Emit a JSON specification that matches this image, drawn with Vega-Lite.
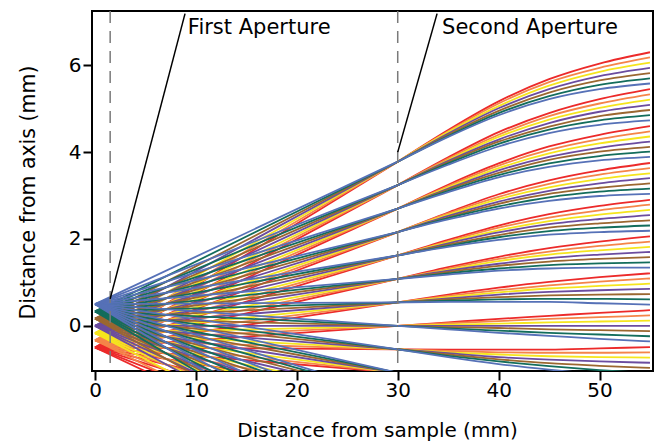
{
"$schema": "https://vega.github.io/schema/vega-lite/v6.json",
"width": 561, "height": 360,
"autosize": "none",
"padding": {"left": 92, "top": 11, "right": 3, "bottom": 71},
"background": "white",
"config": {"view": {"stroke": "black", "strokeWidth": 2}, "font": "DejaVu Sans"},
"datasets": {
"left": [
{"c":"R","y0":-0.5,"y1":-3.78},{"c":"R","y0":-0.5,"y1":-3.24},{"c":"R","y0":-0.5,"y1":-2.70},{"c":"R","y0":-0.5,"y1":-2.16},{"c":"R","y0":-0.5,"y1":-1.62},{"c":"R","y0":-0.5,"y1":-1.08},{"c":"R","y0":-0.5,"y1":-0.54},{"c":"R","y0":-0.5,"y1":0},{"c":"R","y0":-0.5,"y1":0.54},{"c":"R","y0":-0.5,"y1":1.08},{"c":"R","y0":-0.5,"y1":1.62},{"c":"R","y0":-0.5,"y1":2.16},{"c":"R","y0":-0.5,"y1":2.70},{"c":"R","y0":-0.5,"y1":3.24},{"c":"R","y0":-0.5,"y1":3.78},
{"c":"O","y0":-0.333,"y1":-3.78},{"c":"O","y0":-0.333,"y1":-3.24},{"c":"O","y0":-0.333,"y1":-2.70},{"c":"O","y0":-0.333,"y1":-2.16},{"c":"O","y0":-0.333,"y1":-1.62},{"c":"O","y0":-0.333,"y1":-1.08},{"c":"O","y0":-0.333,"y1":-0.54},{"c":"O","y0":-0.333,"y1":0},{"c":"O","y0":-0.333,"y1":0.54},{"c":"O","y0":-0.333,"y1":1.08},{"c":"O","y0":-0.333,"y1":1.62},{"c":"O","y0":-0.333,"y1":2.16},{"c":"O","y0":-0.333,"y1":2.70},{"c":"O","y0":-0.333,"y1":3.24},{"c":"O","y0":-0.333,"y1":3.78},
{"c":"Y","y0":-0.167,"y1":-3.78},{"c":"Y","y0":-0.167,"y1":-3.24},{"c":"Y","y0":-0.167,"y1":-2.70},{"c":"Y","y0":-0.167,"y1":-2.16},{"c":"Y","y0":-0.167,"y1":-1.62},{"c":"Y","y0":-0.167,"y1":-1.08},{"c":"Y","y0":-0.167,"y1":-0.54},{"c":"Y","y0":-0.167,"y1":0},{"c":"Y","y0":-0.167,"y1":0.54},{"c":"Y","y0":-0.167,"y1":1.08},{"c":"Y","y0":-0.167,"y1":1.62},{"c":"Y","y0":-0.167,"y1":2.16},{"c":"Y","y0":-0.167,"y1":2.70},{"c":"Y","y0":-0.167,"y1":3.24},{"c":"Y","y0":-0.167,"y1":3.78},
{"c":"P","y0":0,"y1":-3.78},{"c":"P","y0":0,"y1":-3.24},{"c":"P","y0":0,"y1":-2.70},{"c":"P","y0":0,"y1":-2.16},{"c":"P","y0":0,"y1":-1.62},{"c":"P","y0":0,"y1":-1.08},{"c":"P","y0":0,"y1":-0.54},{"c":"P","y0":0,"y1":0},{"c":"P","y0":0,"y1":0.54},{"c":"P","y0":0,"y1":1.08},{"c":"P","y0":0,"y1":1.62},{"c":"P","y0":0,"y1":2.16},{"c":"P","y0":0,"y1":2.70},{"c":"P","y0":0,"y1":3.24},{"c":"P","y0":0,"y1":3.78},
{"c":"N","y0":0.167,"y1":-3.78},{"c":"N","y0":0.167,"y1":-3.24},{"c":"N","y0":0.167,"y1":-2.70},{"c":"N","y0":0.167,"y1":-2.16},{"c":"N","y0":0.167,"y1":-1.62},{"c":"N","y0":0.167,"y1":-1.08},{"c":"N","y0":0.167,"y1":-0.54},{"c":"N","y0":0.167,"y1":0},{"c":"N","y0":0.167,"y1":0.54},{"c":"N","y0":0.167,"y1":1.08},{"c":"N","y0":0.167,"y1":1.62},{"c":"N","y0":0.167,"y1":2.16},{"c":"N","y0":0.167,"y1":2.70},{"c":"N","y0":0.167,"y1":3.24},{"c":"N","y0":0.167,"y1":3.78},
{"c":"G","y0":0.333,"y1":-3.78},{"c":"G","y0":0.333,"y1":-3.24},{"c":"G","y0":0.333,"y1":-2.70},{"c":"G","y0":0.333,"y1":-2.16},{"c":"G","y0":0.333,"y1":-1.62},{"c":"G","y0":0.333,"y1":-1.08},{"c":"G","y0":0.333,"y1":-0.54},{"c":"G","y0":0.333,"y1":0},{"c":"G","y0":0.333,"y1":0.54},{"c":"G","y0":0.333,"y1":1.08},{"c":"G","y0":0.333,"y1":1.62},{"c":"G","y0":0.333,"y1":2.16},{"c":"G","y0":0.333,"y1":2.70},{"c":"G","y0":0.333,"y1":3.24},{"c":"G","y0":0.333,"y1":3.78},
{"c":"B","y0":0.5,"y1":-3.78},{"c":"B","y0":0.5,"y1":-3.24},{"c":"B","y0":0.5,"y1":-2.70},{"c":"B","y0":0.5,"y1":-2.16},{"c":"B","y0":0.5,"y1":-1.62},{"c":"B","y0":0.5,"y1":-1.08},{"c":"B","y0":0.5,"y1":-0.54},{"c":"B","y0":0.5,"y1":0},{"c":"B","y0":0.5,"y1":0.54},{"c":"B","y0":0.5,"y1":1.08},{"c":"B","y0":0.5,"y1":1.62},{"c":"B","y0":0.5,"y1":2.16},{"c":"B","y0":0.5,"y1":2.70},{"c":"B","y0":0.5,"y1":3.24},{"c":"B","y0":0.5,"y1":3.78}
],
"right": [
{"c":"R","k":7,"x":30,"y":3.78},{"c":"R","k":7,"x":35,"y":4.51},{"c":"R","k":7,"x":40,"y":5.17},{"c":"R","k":7,"x":45,"y":5.68},{"c":"R","k":7,"x":50,"y":6.04},{"c":"R","k":7,"x":55,"y":6.30},
{"c":"R","k":6,"x":30,"y":3.24},{"c":"R","k":6,"x":35,"y":3.88},{"c":"R","k":6,"x":40,"y":4.46},{"c":"R","k":6,"x":45,"y":4.90},{"c":"R","k":6,"x":50,"y":5.22},{"c":"R","k":6,"x":55,"y":5.45},
{"c":"R","k":5,"x":30,"y":2.70},{"c":"R","k":5,"x":35,"y":3.25},{"c":"R","k":5,"x":40,"y":3.74},{"c":"R","k":5,"x":45,"y":4.13},{"c":"R","k":5,"x":50,"y":4.40},{"c":"R","k":5,"x":55,"y":4.60},
{"c":"R","k":4,"x":30,"y":2.16},{"c":"R","k":4,"x":35,"y":2.61},{"c":"R","k":4,"x":40,"y":3.03},{"c":"R","k":4,"x":45,"y":3.35},{"c":"R","k":4,"x":50,"y":3.58},{"c":"R","k":4,"x":55,"y":3.75},
{"c":"R","k":3,"x":30,"y":1.62},{"c":"R","k":3,"x":35,"y":1.98},{"c":"R","k":3,"x":40,"y":2.31},{"c":"R","k":3,"x":45,"y":2.57},{"c":"R","k":3,"x":50,"y":2.76},{"c":"R","k":3,"x":55,"y":2.90},
{"c":"R","k":2,"x":30,"y":1.08},{"c":"R","k":2,"x":35,"y":1.35},{"c":"R","k":2,"x":40,"y":1.59},{"c":"R","k":2,"x":45,"y":1.79},{"c":"R","k":2,"x":50,"y":1.94},{"c":"R","k":2,"x":55,"y":2.06},
{"c":"R","k":1,"x":30,"y":0.54},{"c":"R","k":1,"x":35,"y":0.72},{"c":"R","k":1,"x":40,"y":0.88},{"c":"R","k":1,"x":45,"y":1.01},{"c":"R","k":1,"x":50,"y":1.12},{"c":"R","k":1,"x":55,"y":1.21},
{"c":"R","k":0,"x":30,"y":0},{"c":"R","k":0,"x":35,"y":0.08},{"c":"R","k":0,"x":40,"y":0.16},{"c":"R","k":0,"x":45,"y":0.23},{"c":"R","k":0,"x":50,"y":0.30},{"c":"R","k":0,"x":55,"y":0.36},
{"c":"R","k":-1,"x":30,"y":-0.54},{"c":"R","k":-1,"x":35,"y":-0.55},{"c":"R","k":-1,"x":40,"y":-0.55},{"c":"R","k":-1,"x":45,"y":-0.55},{"c":"R","k":-1,"x":50,"y":-0.52},{"c":"R","k":-1,"x":55,"y":-0.49},
{"c":"O","k":7,"x":30,"y":3.78},{"c":"O","k":7,"x":35,"y":4.48},{"c":"O","k":7,"x":40,"y":5.12},{"c":"O","k":7,"x":45,"y":5.61},{"c":"O","k":7,"x":50,"y":5.94},{"c":"O","k":7,"x":55,"y":6.18},
{"c":"O","k":6,"x":30,"y":3.24},{"c":"O","k":6,"x":35,"y":3.85},{"c":"O","k":6,"x":40,"y":4.40},{"c":"O","k":6,"x":45,"y":4.83},{"c":"O","k":6,"x":50,"y":5.12},{"c":"O","k":6,"x":55,"y":5.33},
{"c":"O","k":5,"x":30,"y":2.70},{"c":"O","k":5,"x":35,"y":3.22},{"c":"O","k":5,"x":40,"y":3.69},{"c":"O","k":5,"x":45,"y":4.05},{"c":"O","k":5,"x":50,"y":4.30},{"c":"O","k":5,"x":55,"y":4.48},
{"c":"O","k":4,"x":30,"y":2.16},{"c":"O","k":4,"x":35,"y":2.59},{"c":"O","k":4,"x":40,"y":2.97},{"c":"O","k":4,"x":45,"y":3.27},{"c":"O","k":4,"x":50,"y":3.48},{"c":"O","k":4,"x":55,"y":3.63},
{"c":"O","k":3,"x":30,"y":1.62},{"c":"O","k":3,"x":35,"y":1.95},{"c":"O","k":3,"x":40,"y":2.26},{"c":"O","k":3,"x":45,"y":2.49},{"c":"O","k":3,"x":50,"y":2.66},{"c":"O","k":3,"x":55,"y":2.79},
{"c":"O","k":2,"x":30,"y":1.08},{"c":"O","k":2,"x":35,"y":1.32},{"c":"O","k":2,"x":40,"y":1.54},{"c":"O","k":2,"x":45,"y":1.71},{"c":"O","k":2,"x":50,"y":1.84},{"c":"O","k":2,"x":55,"y":1.94},
{"c":"O","k":1,"x":30,"y":0.54},{"c":"O","k":1,"x":35,"y":0.69},{"c":"O","k":1,"x":40,"y":0.82},{"c":"O","k":1,"x":45,"y":0.93},{"c":"O","k":1,"x":50,"y":1.02},{"c":"O","k":1,"x":55,"y":1.09},
{"c":"O","k":0,"x":30,"y":0},{"c":"O","k":0,"x":35,"y":0.06},{"c":"O","k":0,"x":40,"y":0.11},{"c":"O","k":0,"x":45,"y":0.16},{"c":"O","k":0,"x":50,"y":0.20},{"c":"O","k":0,"x":55,"y":0.24},
{"c":"O","k":-1,"x":30,"y":-0.54},{"c":"O","k":-1,"x":35,"y":-0.58},{"c":"O","k":-1,"x":40,"y":-0.61},{"c":"O","k":-1,"x":45,"y":-0.62},{"c":"O","k":-1,"x":50,"y":-0.62},{"c":"O","k":-1,"x":55,"y":-0.61},
{"c":"Y","k":7,"x":30,"y":3.78},{"c":"Y","k":7,"x":35,"y":4.46},{"c":"Y","k":7,"x":40,"y":5.06},{"c":"Y","k":7,"x":45,"y":5.53},{"c":"Y","k":7,"x":50,"y":5.85},{"c":"Y","k":7,"x":55,"y":6.06},
{"c":"Y","k":6,"x":30,"y":3.24},{"c":"Y","k":6,"x":35,"y":3.82},{"c":"Y","k":6,"x":40,"y":4.35},{"c":"Y","k":6,"x":45,"y":4.75},{"c":"Y","k":6,"x":50,"y":5.02},{"c":"Y","k":6,"x":55,"y":5.21},
{"c":"Y","k":5,"x":30,"y":2.70},{"c":"Y","k":5,"x":35,"y":3.19},{"c":"Y","k":5,"x":40,"y":3.63},{"c":"Y","k":5,"x":45,"y":3.97},{"c":"Y","k":5,"x":50,"y":4.20},{"c":"Y","k":5,"x":55,"y":4.36},
{"c":"Y","k":4,"x":30,"y":2.16},{"c":"Y","k":4,"x":35,"y":2.56},{"c":"Y","k":4,"x":40,"y":2.92},{"c":"Y","k":4,"x":45,"y":3.19},{"c":"Y","k":4,"x":50,"y":3.38},{"c":"Y","k":4,"x":55,"y":3.51},
{"c":"Y","k":3,"x":30,"y":1.62},{"c":"Y","k":3,"x":35,"y":1.93},{"c":"Y","k":3,"x":40,"y":2.20},{"c":"Y","k":3,"x":45,"y":2.41},{"c":"Y","k":3,"x":50,"y":2.56},{"c":"Y","k":3,"x":55,"y":2.67},
{"c":"Y","k":2,"x":30,"y":1.08},{"c":"Y","k":2,"x":35,"y":1.29},{"c":"Y","k":2,"x":40,"y":1.49},{"c":"Y","k":2,"x":45,"y":1.64},{"c":"Y","k":2,"x":50,"y":1.74},{"c":"Y","k":2,"x":55,"y":1.82},
{"c":"Y","k":1,"x":30,"y":0.54},{"c":"Y","k":1,"x":35,"y":0.66},{"c":"Y","k":1,"x":40,"y":0.77},{"c":"Y","k":1,"x":45,"y":0.86},{"c":"Y","k":1,"x":50,"y":0.92},{"c":"Y","k":1,"x":55,"y":0.97},
{"c":"Y","k":0,"x":30,"y":0},{"c":"Y","k":0,"x":35,"y":0.03},{"c":"Y","k":0,"x":40,"y":0.05},{"c":"Y","k":0,"x":45,"y":0.08},{"c":"Y","k":0,"x":50,"y":0.10},{"c":"Y","k":0,"x":55,"y":0.12},
{"c":"Y","k":-1,"x":30,"y":-0.54},{"c":"Y","k":-1,"x":35,"y":-0.61},{"c":"Y","k":-1,"x":40,"y":-0.66},{"c":"Y","k":-1,"x":45,"y":-0.70},{"c":"Y","k":-1,"x":50,"y":-0.72},{"c":"Y","k":-1,"x":55,"y":-0.73},
{"c":"P","k":7,"x":30,"y":3.78},{"c":"P","k":7,"x":35,"y":4.43},{"c":"P","k":7,"x":40,"y":5.01},{"c":"P","k":7,"x":45,"y":5.45},{"c":"P","k":7,"x":50,"y":5.75},{"c":"P","k":7,"x":55,"y":5.94},
{"c":"P","k":6,"x":30,"y":3.24},{"c":"P","k":6,"x":35,"y":3.80},{"c":"P","k":6,"x":40,"y":4.29},{"c":"P","k":6,"x":45,"y":4.67},{"c":"P","k":6,"x":50,"y":4.93},{"c":"P","k":6,"x":55,"y":5.09},
{"c":"P","k":5,"x":30,"y":2.70},{"c":"P","k":5,"x":35,"y":3.16},{"c":"P","k":5,"x":40,"y":3.58},{"c":"P","k":5,"x":45,"y":3.89},{"c":"P","k":5,"x":50,"y":4.10},{"c":"P","k":5,"x":55,"y":4.24},
{"c":"P","k":4,"x":30,"y":2.16},{"c":"P","k":4,"x":35,"y":2.53},{"c":"P","k":4,"x":40,"y":2.86},{"c":"P","k":4,"x":45,"y":3.11},{"c":"P","k":4,"x":50,"y":3.28},{"c":"P","k":4,"x":55,"y":3.40},
{"c":"P","k":3,"x":30,"y":1.62},{"c":"P","k":3,"x":35,"y":1.90},{"c":"P","k":3,"x":40,"y":2.15},{"c":"P","k":3,"x":45,"y":2.34},{"c":"P","k":3,"x":50,"y":2.46},{"c":"P","k":3,"x":55,"y":2.55},
{"c":"P","k":2,"x":30,"y":1.08},{"c":"P","k":2,"x":35,"y":1.27},{"c":"P","k":2,"x":40,"y":1.43},{"c":"P","k":2,"x":45,"y":1.56},{"c":"P","k":2,"x":50,"y":1.64},{"c":"P","k":2,"x":55,"y":1.70},
{"c":"P","k":1,"x":30,"y":0.54},{"c":"P","k":1,"x":35,"y":0.63},{"c":"P","k":1,"x":40,"y":0.72},{"c":"P","k":1,"x":45,"y":0.78},{"c":"P","k":1,"x":50,"y":0.82},{"c":"P","k":1,"x":55,"y":0.85},
{"c":"P","k":0,"x":30,"y":0},{"c":"P","k":0,"x":35,"y":0},{"c":"P","k":0,"x":40,"y":0},{"c":"P","k":0,"x":45,"y":0},{"c":"P","k":0,"x":50,"y":0},{"c":"P","k":0,"x":55,"y":0},
{"c":"P","k":-1,"x":30,"y":-0.54},{"c":"P","k":-1,"x":35,"y":-0.63},{"c":"P","k":-1,"x":40,"y":-0.72},{"c":"P","k":-1,"x":45,"y":-0.78},{"c":"P","k":-1,"x":50,"y":-0.82},{"c":"P","k":-1,"x":55,"y":-0.85},
{"c":"N","k":7,"x":30,"y":3.78},{"c":"N","k":7,"x":35,"y":4.40},{"c":"N","k":7,"x":40,"y":4.95},{"c":"N","k":7,"x":45,"y":5.37},{"c":"N","k":7,"x":50,"y":5.65},{"c":"N","k":7,"x":55,"y":5.82},
{"c":"N","k":6,"x":30,"y":3.24},{"c":"N","k":6,"x":35,"y":3.77},{"c":"N","k":6,"x":40,"y":4.24},{"c":"N","k":6,"x":45,"y":4.59},{"c":"N","k":6,"x":50,"y":4.83},{"c":"N","k":6,"x":55,"y":4.97},
{"c":"N","k":5,"x":30,"y":2.70},{"c":"N","k":5,"x":35,"y":3.14},{"c":"N","k":5,"x":40,"y":3.52},{"c":"N","k":5,"x":45,"y":3.82},{"c":"N","k":5,"x":50,"y":4.01},{"c":"N","k":5,"x":55,"y":4.12},
{"c":"N","k":4,"x":30,"y":2.16},{"c":"N","k":4,"x":35,"y":2.50},{"c":"N","k":4,"x":40,"y":2.81},{"c":"N","k":4,"x":45,"y":3.04},{"c":"N","k":4,"x":50,"y":3.18},{"c":"N","k":4,"x":55,"y":3.28},
{"c":"N","k":3,"x":30,"y":1.62},{"c":"N","k":3,"x":35,"y":1.87},{"c":"N","k":3,"x":40,"y":2.09},{"c":"N","k":3,"x":45,"y":2.26},{"c":"N","k":3,"x":50,"y":2.36},{"c":"N","k":3,"x":55,"y":2.43},
{"c":"N","k":2,"x":30,"y":1.08},{"c":"N","k":2,"x":35,"y":1.24},{"c":"N","k":2,"x":40,"y":1.38},{"c":"N","k":2,"x":45,"y":1.48},{"c":"N","k":2,"x":50,"y":1.54},{"c":"N","k":2,"x":55,"y":1.58},
{"c":"N","k":1,"x":30,"y":0.54},{"c":"N","k":1,"x":35,"y":0.61},{"c":"N","k":1,"x":40,"y":0.66},{"c":"N","k":1,"x":45,"y":0.70},{"c":"N","k":1,"x":50,"y":0.72},{"c":"N","k":1,"x":55,"y":0.73},
{"c":"N","k":0,"x":30,"y":0},{"c":"N","k":0,"x":35,"y":-0.03},{"c":"N","k":0,"x":40,"y":-0.05},{"c":"N","k":0,"x":45,"y":-0.08},{"c":"N","k":0,"x":50,"y":-0.10},{"c":"N","k":0,"x":55,"y":-0.12},
{"c":"N","k":-1,"x":30,"y":-0.54},{"c":"N","k":-1,"x":35,"y":-0.66},{"c":"N","k":-1,"x":40,"y":-0.77},{"c":"N","k":-1,"x":45,"y":-0.86},{"c":"N","k":-1,"x":50,"y":-0.92},{"c":"N","k":-1,"x":55,"y":-0.97},
{"c":"G","k":7,"x":30,"y":3.78},{"c":"G","k":7,"x":35,"y":4.37},{"c":"G","k":7,"x":40,"y":4.90},{"c":"G","k":7,"x":45,"y":5.29},{"c":"G","k":7,"x":50,"y":5.55},{"c":"G","k":7,"x":55,"y":5.70},
{"c":"G","k":6,"x":30,"y":3.24},{"c":"G","k":6,"x":35,"y":3.74},{"c":"G","k":6,"x":40,"y":4.19},{"c":"G","k":6,"x":45,"y":4.52},{"c":"G","k":6,"x":50,"y":4.73},{"c":"G","k":6,"x":55,"y":4.85},
{"c":"G","k":5,"x":30,"y":2.70},{"c":"G","k":5,"x":35,"y":3.11},{"c":"G","k":5,"x":40,"y":3.47},{"c":"G","k":5,"x":45,"y":3.74},{"c":"G","k":5,"x":50,"y":3.91},{"c":"G","k":5,"x":55,"y":4.01},
{"c":"G","k":4,"x":30,"y":2.16},{"c":"G","k":4,"x":35,"y":2.48},{"c":"G","k":4,"x":40,"y":2.75},{"c":"G","k":4,"x":45,"y":2.96},{"c":"G","k":4,"x":50,"y":3.09},{"c":"G","k":4,"x":55,"y":3.16},
{"c":"G","k":3,"x":30,"y":1.62},{"c":"G","k":3,"x":35,"y":1.84},{"c":"G","k":3,"x":40,"y":2.04},{"c":"G","k":3,"x":45,"y":2.18},{"c":"G","k":3,"x":50,"y":2.26},{"c":"G","k":3,"x":55,"y":2.31},
{"c":"G","k":2,"x":30,"y":1.08},{"c":"G","k":2,"x":35,"y":1.21},{"c":"G","k":2,"x":40,"y":1.32},{"c":"G","k":2,"x":45,"y":1.40},{"c":"G","k":2,"x":50,"y":1.44},{"c":"G","k":2,"x":55,"y":1.46},
{"c":"G","k":1,"x":30,"y":0.54},{"c":"G","k":1,"x":35,"y":0.58},{"c":"G","k":1,"x":40,"y":0.61},{"c":"G","k":1,"x":45,"y":0.62},{"c":"G","k":1,"x":50,"y":0.62},{"c":"G","k":1,"x":55,"y":0.61},
{"c":"G","k":0,"x":30,"y":0},{"c":"G","k":0,"x":35,"y":-0.06},{"c":"G","k":0,"x":40,"y":-0.11},{"c":"G","k":0,"x":45,"y":-0.16},{"c":"G","k":0,"x":50,"y":-0.20},{"c":"G","k":0,"x":55,"y":-0.24},
{"c":"G","k":-1,"x":30,"y":-0.54},{"c":"G","k":-1,"x":35,"y":-0.69},{"c":"G","k":-1,"x":40,"y":-0.82},{"c":"G","k":-1,"x":45,"y":-0.93},{"c":"G","k":-1,"x":50,"y":-1.02},{"c":"G","k":-1,"x":55,"y":-1.09},
{"c":"B","k":7,"x":30,"y":3.78},{"c":"B","k":7,"x":35,"y":4.35},{"c":"B","k":7,"x":40,"y":4.85},{"c":"B","k":7,"x":45,"y":5.22},{"c":"B","k":7,"x":50,"y":5.45},{"c":"B","k":7,"x":55,"y":5.58},
{"c":"B","k":6,"x":30,"y":3.24},{"c":"B","k":6,"x":35,"y":3.71},{"c":"B","k":6,"x":40,"y":4.13},{"c":"B","k":6,"x":45,"y":4.44},{"c":"B","k":6,"x":50,"y":4.63},{"c":"B","k":6,"x":55,"y":4.73},
{"c":"B","k":5,"x":30,"y":2.70},{"c":"B","k":5,"x":35,"y":3.08},{"c":"B","k":5,"x":40,"y":3.42},{"c":"B","k":5,"x":45,"y":3.66},{"c":"B","k":5,"x":50,"y":3.81},{"c":"B","k":5,"x":55,"y":3.89},
{"c":"B","k":4,"x":30,"y":2.16},{"c":"B","k":4,"x":35,"y":2.45},{"c":"B","k":4,"x":40,"y":2.70},{"c":"B","k":4,"x":45,"y":2.88},{"c":"B","k":4,"x":50,"y":2.99},{"c":"B","k":4,"x":55,"y":3.04},
{"c":"B","k":3,"x":30,"y":1.62},{"c":"B","k":3,"x":35,"y":1.82},{"c":"B","k":3,"x":40,"y":1.98},{"c":"B","k":3,"x":45,"y":2.10},{"c":"B","k":3,"x":50,"y":2.16},{"c":"B","k":3,"x":55,"y":2.19},
{"c":"B","k":2,"x":30,"y":1.08},{"c":"B","k":2,"x":35,"y":1.18},{"c":"B","k":2,"x":40,"y":1.27},{"c":"B","k":2,"x":45,"y":1.32},{"c":"B","k":2,"x":50,"y":1.34},{"c":"B","k":2,"x":55,"y":1.34},
{"c":"B","k":1,"x":30,"y":0.54},{"c":"B","k":1,"x":35,"y":0.55},{"c":"B","k":1,"x":40,"y":0.55},{"c":"B","k":1,"x":45,"y":0.55},{"c":"B","k":1,"x":50,"y":0.52},{"c":"B","k":1,"x":55,"y":0.49},
{"c":"B","k":0,"x":30,"y":0},{"c":"B","k":0,"x":35,"y":-0.08},{"c":"B","k":0,"x":40,"y":-0.16},{"c":"B","k":0,"x":45,"y":-0.23},{"c":"B","k":0,"x":50,"y":-0.30},{"c":"B","k":0,"x":55,"y":-0.36},
{"c":"B","k":-1,"x":30,"y":-0.54},{"c":"B","k":-1,"x":35,"y":-0.72},{"c":"B","k":-1,"x":40,"y":-0.88},{"c":"B","k":-1,"x":45,"y":-1.01},{"c":"B","k":-1,"x":50,"y":-1.12},{"c":"B","k":-1,"x":55,"y":-1.21}
]
},
"layer": [
{
"data": {"name": "left"},
"mark": {"type": "rule", "strokeWidth": 1.8, "clip": true},
"encoding": {
"x": {"datum": 0, "type": "quantitative",
 "scale": {"domain": [-0.3, 55.3], "nice": false, "zero": false},
 "axis": {"values": [0,10,20,30,40,50], "title": "Distance from sample (mm)", "grid": false, "domain": false,
  "tickSize": 9, "tickWidth": 2, "tickColor": "black", "labelFontSize": 20, "labelColor": "black", "labelPadding": 0,
  "labelFont": "DejaVu Sans", "titleFont": "DejaVu Sans", "titleFontSize": 20, "titleFontWeight": "normal", "titleColor": "black",
  "titleBaseline": "alphabetic", "titleY": 65, "titleX": 285}},
"x2": {"datum": 30},
"y": {"field": "y0", "type": "quantitative",
 "scale": {"domain": [-1.04, 7.25], "nice": false, "zero": false},
 "axis": {"values": [0,2,4,6], "title": "Distance from axis (mm)", "grid": false, "domain": false,
  "tickSize": 9, "tickWidth": 2, "tickColor": "black", "labelFontSize": 20, "labelColor": "black", "labelPadding": 2,
  "labelFont": "DejaVu Sans", "titleFont": "DejaVu Sans", "titleFontSize": 20.5, "titleFontWeight": "normal", "titleColor": "black",
  "titleBaseline": "alphabetic", "titleX": -58, "titleY": 181}},
"y2": {"field": "y1"},
"color": {"field": "c", "type": "nominal",
 "scale": {"domain": ["R","O","Y","P","N","G","B"], "range": ["#ec2a2a","#f58549","#f5e51e","#6b4c9f","#9b6730","#136d5c","#5671b7"]},
 "legend": null}
}
},
{
"data": {"name": "right"},
"mark": {"type": "line", "strokeWidth": 1.8, "clip": true, "interpolate": "monotone"},
"encoding": {
"x": {"field": "x", "type": "quantitative"},
"y": {"field": "y", "type": "quantitative"},
"color": {"field": "c", "type": "nominal"},
"detail": {"field": "k", "type": "nominal"}
}
},
{
"data": {"values": [{"x": 1.5}, {"x": 30}]},
"mark": {"type": "rule", "strokeDash": [12, 8], "color": "#7a7a7a", "strokeWidth": 1.5},
"encoding": {"x": {"field": "x", "type": "quantitative"}}
},
{
"data": {"values": [{"x": 8.92, "y": 7.19, "x2": 1.5, "y2": 0.62}, {"x": 33.9, "y": 7.19, "x2": 30.0, "y2": 4.0}]},
"mark": {"type": "rule", "color": "black", "strokeWidth": 1.5},
"encoding": {"x": {"field": "x", "type": "quantitative"}, "y": {"field": "y", "type": "quantitative"}, "x2": {"field": "x2"}, "y2": {"field": "y2"}}
},
{
"data": {"values": [{"x": 9.2, "y": 6.73, "t": "First Aperture"}, {"x": 34.4, "y": 6.73, "t": "Second Aperture"}]},
"mark": {"type": "text", "align": "left", "baseline": "alphabetic", "fontSize": 21, "font": "DejaVu Sans", "color": "black"},
"encoding": {"x": {"field": "x", "type": "quantitative"}, "y": {"field": "y", "type": "quantitative"}, "text": {"field": "t"}}
}
]
}
